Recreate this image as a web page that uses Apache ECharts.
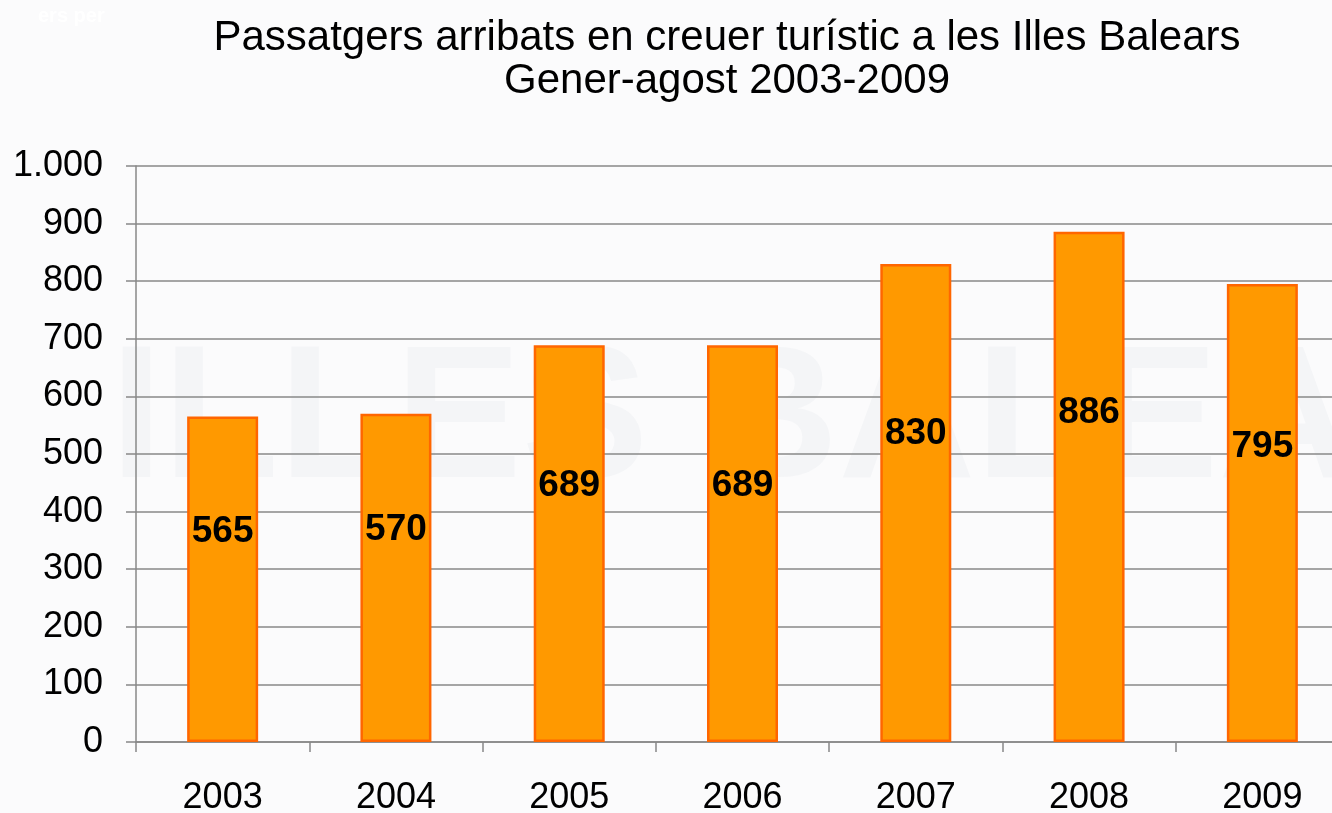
<!DOCTYPE html>
<html>
<head>
<meta charset="utf-8">
<title>Passatgers arribats en creuer</title>
<script src="https://cdn.jsdelivr.net/npm/echarts@6/dist/echarts.min.js"></script>
<style>
  html, body { margin: 0; padding: 0; background: #fbfbfc; }
  #main { width: 1332px; height: 813px; }
</style>
</head>
<body>
<div id="main"></div>
<script>
// dades
var years = ['2003', '2004', '2005', '2006', '2007', '2008', '2009'];
var passatgers = [565, 570, 689, 689, 830, 886, 795];

var myChart = echarts.init(document.getElementById('main'));

var option = {
  backgroundColor: '#fbfbfc',
  textStyle: { fontFamily: 'Liberation Sans, Arial, sans-serif' },
  title: {
    text: 'Passatgers arribats en creuer turístic a les Illes Balears\nGener-agost 2003-2009',
    left: 722,
    top: 12,
    textAlign: 'center',
    textStyle: {
      fontSize: 42,
      fontWeight: 'normal',
      color: '#000',
      lineHeight: 43
    }
  },
  graphic: [
    {
      type: 'text',
      left: 110,
      top: 330,
      z: -10,
      style: {
        text: 'ILLES BALEARS',
        fontSize: 190,
        fontWeight: 'bold',
        fill: 'rgba(200,205,215,0.12)'
      }
    },
    {
      type: 'text',
      left: 38,
      top: 6,
      style: {
        text: 'ers per',
        fontSize: 20,
        fontWeight: 'bold',
        fill: '#ffffff'
      }
    }
  ],
  grid: {
    left: 136,
    width: 1213,
    top: 166,
    bottom: 71,
    containLabel: false,
    outerBoundsMode: 'none'
  },
  xAxis: {
    type: 'category',
    data: years,
    axisLine: { lineStyle: { color: '#888', width: 1.5 } },
    axisTick: { show: true, length: 10, lineStyle: { color: '#888', width: 1.5 } },
    axisLabel: { fontSize: 36, color: '#000', margin: 38 }
  },
  yAxis: {
    type: 'value',
    min: 0,
    max: 1000,
    interval: 100,
    axisLine: { show: true, lineStyle: { color: '#888', width: 1.5 } },
    axisTick: { show: true, length: 10, lineStyle: { color: '#888', width: 1.5 } },
    splitLine: { lineStyle: { color: '#888', width: 1.5 } },
    axisLabel: {
      fontSize: 36,
      color: '#000',
      margin: 33,
      formatter: function (v) {
        return v >= 1000 ? (v / 1000).toFixed(0) + '.' + String(v % 1000).padStart(3, '0') : String(v);
      }
    }
  },
  series: [
    {
      type: 'bar',
      data: passatgers,
      barWidth: 71,
      itemStyle: {
        color: '#FF9900',
        borderColor: '#FF6600',
        borderWidth: 2.5
      },
      label: {
        show: true,
        position: ['50%', '35.5%'],
        align: 'center',
        verticalAlign: 'middle',
        fontSize: 37,
        fontWeight: 'bold',
        color: '#000'
      }
    }
  ]
};

if (option && typeof option === 'object') {
  myChart.setOption(option, true);
}
</script>
</body>
</html>
